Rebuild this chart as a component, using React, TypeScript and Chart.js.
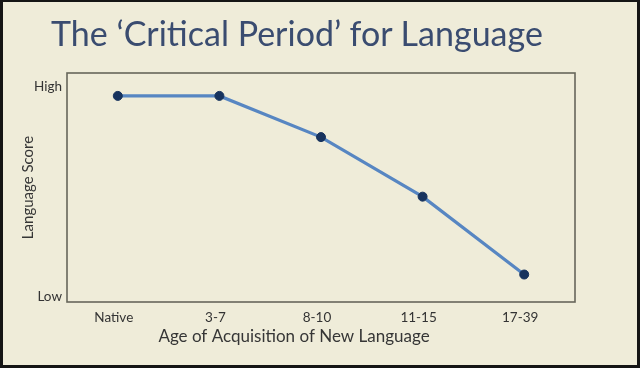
import React, { useEffect, useRef } from "react";
import { Chart, registerables } from "chart.js";

Chart.register(...registerables);

const categories = ["Native", "3-7", "8-10", "11-15", "17-39"];
const languageScore = [90, 90, 72, 46, 12];
const yTickValues = [2.5, 94];
const yTickLabels = ["Low", "High"];
const slideTitle = "The \u2018Critical Period\u2019 for Language";
const xAxisTitle = "Age of Acquisition of New Language";
const yAxisTitle = "Language Score";

const BG = "#efecd9";
const FONT = "Lato, 'Open Sans', sans-serif";

export default function App() {
  const ref = useRef<HTMLCanvasElement>(null);

  useEffect(() => {
    const canvas = ref.current;
    if (!canvas) return;

    const boxPlugin = {
      id: "slideBox",
      beforeDraw(chart: any) {
        const { ctx } = chart;
        ctx.save();
        ctx.fillStyle = BG;
        ctx.fillRect(0, 0, chart.width, chart.height);
        ctx.restore();
      },
      beforeDatasetsDraw(chart: any) {
        const { ctx, chartArea: a } = chart;
        ctx.save();
        ctx.strokeStyle = "#67665a";
        ctx.lineWidth = 1.6;
        ctx.strokeRect(a.left, a.top, a.right - a.left, a.bottom - a.top);
        ctx.restore();
      },
      afterDraw(chart: any) {
        const { ctx, chartArea: a } = chart;
        ctx.save();
        ctx.fillStyle = "#363636";
        ctx.font = `17px ${FONT}`;
        ctx.textAlign = "center";
        ctx.textBaseline = "middle";
        ctx.fillText(xAxisTitle, (a.left + a.right) / 2 - 27, a.bottom + 35);
        ctx.restore();
      },
    };

    const chart = new Chart(canvas, {
      type: "line",
      data: {
        labels: categories,
        datasets: [
          {
            data: languageScore,
            borderColor: "#5786c2",
            borderWidth: 3.2,
            pointRadius: 4.5,
            pointHoverRadius: 4.5,
            pointBackgroundColor: "#17335e",
            pointBorderColor: "#17335e",
            pointBorderWidth: 1,
            tension: 0,
          },
        ],
      },
      options: {
        responsive: false,
        animation: false,
        layout: { padding: { left: 0, top: 73, right: 65, bottom: 0 } },
        plugins: {
          legend: { display: false },
          tooltip: { enabled: false },
          title: { display: false },
        },
        scales: {
          x: {
            type: "category",
            offset: true,
            grid: { display: false, drawTicks: false },
            border: { display: false },
            ticks: {
              color: "#333333",
              font: { family: FONT, size: 13.5 },
              padding: 8,
              maxRotation: 0,
              labelOffset: -4,
            },
            afterFit(scale: any) {
              scale.height = 66;
            },
          },
          y: {
            type: "linear",
            min: 0,
            max: 100,
            grid: { display: false, drawTicks: false },
            border: { display: false },
            afterBuildTicks(axis: any) {
              axis.ticks = yTickValues.map((v) => ({ value: v }));
            },
            ticks: {
              color: "#333333",
              font: { family: FONT, size: 13.5 },
              padding: 5,
              callback: (_v: any, i: number) => yTickLabels[i],
            },
            title: {
              display: true,
              text: yAxisTitle,
              color: "#363636",
              font: { family: FONT, size: 15 },
              padding: { top: 19, bottom: 0 },
            },
            afterFit(scale: any) {
              scale.width = 67;
            },
          },
        },
      },
      plugins: [boxPlugin],
    });

    return () => chart.destroy();
  }, []);

  return (
    <div
      style={{
        position: "fixed",
        left: 0,
        top: 0,
        width: 640,
        height: 368,
        background: BG,
        overflow: "hidden",
      }}
    >
      <canvas
        ref={ref}
        width={640}
        height={368}
        style={{ position: "absolute", left: 0, top: 0, width: 640, height: 368 }}
      />
      <div
        style={{
          position: "absolute",
          left: 51,
          top: 13,
          fontFamily: FONT,
          fontSize: 34,
          lineHeight: "40px",
          color: "#3a4c70",
          whiteSpace: "nowrap",
        }}
      >
        {slideTitle}
      </div>
      <div
        style={{
          position: "absolute",
          left: 0,
          top: 0,
          width: 640,
          height: 368,
          boxSizing: "border-box",
          borderStyle: "solid",
          borderColor: "#151515",
          borderWidth: "2px 3px 3px 3px",
          pointerEvents: "none",
        }}
      />
    </div>
  );
}
